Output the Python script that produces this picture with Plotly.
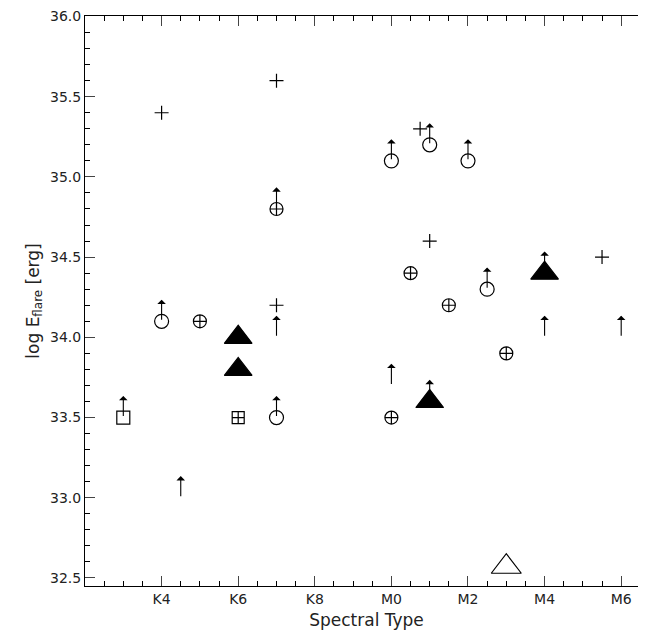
import plotly.graph_objects as go

# spectral type coded as number: K4=4 ... K8=8, M0=10, M2=12 ...
tick_vals = [4, 6, 8, 10, 12, 14, 16]
tick_text = ["K4", "K6", "K8", "M0", "M2", "M4", "M6"]
y_ticks = [32.5, 33.0, 33.5, 34.0, 34.5, 35.0, 35.5, 36.0]

plus_x = [4, 7, 10.75, 11, 7, 15.5]
plus_y = [35.4, 35.6, 35.3, 34.6, 34.2, 34.5]

circ_x = [4, 7, 10, 11, 12, 12.5]
circ_y = [34.1, 33.5, 35.1, 35.2, 35.1, 34.3]

ccirc_x = [7, 5, 10.5, 11.5, 13, 10]
ccirc_y = [34.8, 34.1, 34.4, 34.2, 33.9, 33.5]

sq_x = [3]
sq_y = [33.5]

csq_x = [6]
csq_y = [33.5]

tri_x = [6, 6, 14, 11]
tri_y = [34.0, 33.8, 34.4, 33.6]

otri_x = [13]
otri_y = [32.57]

# lower limits: arrows starting at these points
arr_x = [4, 7, 10, 11, 12, 12.5, 7, 3, 14, 11, 7, 4.5, 14, 16, 10]
arr_y = [34.1, 33.5, 35.1, 35.2, 35.1, 34.3, 34.8, 33.5, 34.4, 33.6, 34.0, 33.0, 34.0, 34.0, 33.7]

fig = go.Figure()
ln = dict(color="black", width=1.2)
def pts(x, y, symbol, size):
    fig.add_trace(go.Scatter(x=x, y=y, mode="markers",
                             marker=dict(symbol=symbol, size=size, color="black", line=ln)))

pts(plus_x, plus_y, "cross-thin-open", 10)
pts(circ_x, circ_y, "circle-open", 14)
pts(ccirc_x, ccirc_y, "circle-cross-open", 13)
pts(sq_x, sq_y, "square-open", 13)
pts(csq_x, csq_y, "square-cross-open", 12)
pts(tri_x, tri_y, "triangle-up", 24)
pts(otri_x, otri_y, "triangle-up-open", 26)

for x, y in zip(arr_x, arr_y):
    fig.add_annotation(x=x, y=y + 0.135, ax=x, ay=y, xref="x", yref="y",
                       axref="x", ayref="y", showarrow=True, text="",
                       arrowhead=1, arrowsize=1.3, arrowwidth=1.1, arrowcolor="black")

font = dict(family="DejaVu Sans", size=14, color="#222")
fig.update_layout(
    width=646, height=631, showlegend=False,
    plot_bgcolor="white", paper_bgcolor="white",
    margin=dict(l=77, r=6, t=8, b=53), font=font,
)
fig.update_xaxes(range=[2, 16.7], tickvals=tick_vals, ticktext=tick_text,
                 ticks="inside", ticklen=10, mirror="allticks", showline=True,
                 linecolor="black", showgrid=False, zeroline=False, automargin=False,
                 minor=dict(dtick=0.5, tick0=0, ticks="inside", ticklen=5, tickcolor="black"),
                 title=dict(text="Spectral Type", standoff=8))
fig.update_yaxes(range=[32.45, 36.003], tickvals=y_ticks, tickformat=".1f",
                 ticks="inside", ticklen=10, mirror="allticks", showline=True,
                 linecolor="black", showgrid=False, zeroline=False, automargin=False,
                 minor=dict(dtick=0.1, tick0=32.5, ticks="inside", ticklen=5, tickcolor="black"),
                 title=dict(text="log E<sub>flare</sub> [erg]", standoff=6))
fig.write_html("out.html")
